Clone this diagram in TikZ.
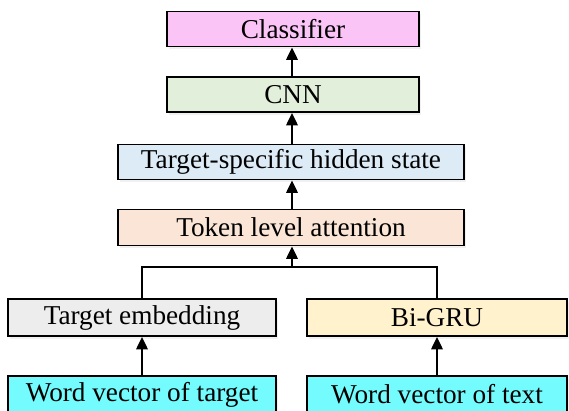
\documentclass[tikz,border=0pt]{standalone}
\usepackage{fontspec}
\setmainfont{Liberation Serif}
\usetikzlibrary{arrows.meta,shadows}
\definecolor{clsfill}{RGB}{250,197,246}
\definecolor{cnnfill}{RGB}{226,239,218}
\definecolor{hidfill}{RGB}{221,235,247}
\definecolor{attfill}{RGB}{251,229,214}
\definecolor{embfill}{RGB}{237,237,237}
\definecolor{grufill}{RGB}{255,242,204}
\definecolor{vecfill}{RGB}{115,251,253}
\begin{document}
\begin{tikzpicture}[x=0.02cm,y=-0.02cm,line width=1.1pt,
  layer/.style={draw,rectangle,inner sep=0pt,minimum height=35*0.02cm,
    font=\fontsize{15.5}{18}\selectfont,
    drop shadow={opacity=0.12,shadow xshift=1pt,shadow yshift=-1.5pt}},
  up/.style={-{Triangle[length=7pt,width=6.5pt]}}]
  \useasboundingbox (0,0) rectangle (569,411);
  % upper stack
  \node[layer,fill=clsfill,minimum width=252*0.02cm] (cls) at (293,29) {Classifier};
  \node[layer,fill=cnnfill,minimum width=252*0.02cm] (cnn) at (293,94.5) {CNN};
  \node[layer,fill=hidfill,minimum width=346*0.02cm] (hid) at (291,162) {Target-specific hidden state};
  \node[layer,fill=attfill,minimum width=346*0.02cm,minimum height=36*0.02cm] (att) at (291,227.5) {Token level attention};
  % two inputs
  \node[layer,fill=embfill,minimum width=268*0.02cm,minimum height=37*0.02cm] (emb) at (142,317.5) {Target embedding};
  \node[layer,fill=grufill,minimum width=260*0.02cm,minimum height=37*0.02cm] (gru) at (437,317.5) {Bi-GRU};
  \node[layer,fill=vecfill,minimum width=268*0.02cm,minimum height=37*0.02cm] (vtar) at (142,394.5) {Word vector of target};
  \node[layer,fill=vecfill,minimum width=260*0.02cm,minimum height=37*0.02cm] (vtxt) at (437,394.5) {Word vector of text};
  \coordinate (j) at (292,267);
  \draw (emb.north) |- (j) -| (gru.north);
  \draw[up] (j) -- (att.south -| j);
  \draw[up] (att.north -| j) -- (hid.south -| j);
  \draw[up] (hid.north -| j) -- (cnn.south -| j);
  \draw[up] (cnn.north -| j) -- (cls.south -| j);
  \foreach \a/\b in {vtar/emb,vtxt/gru}
    \draw[up] (\a) -- (\b);
\end{tikzpicture}
\end{document}
